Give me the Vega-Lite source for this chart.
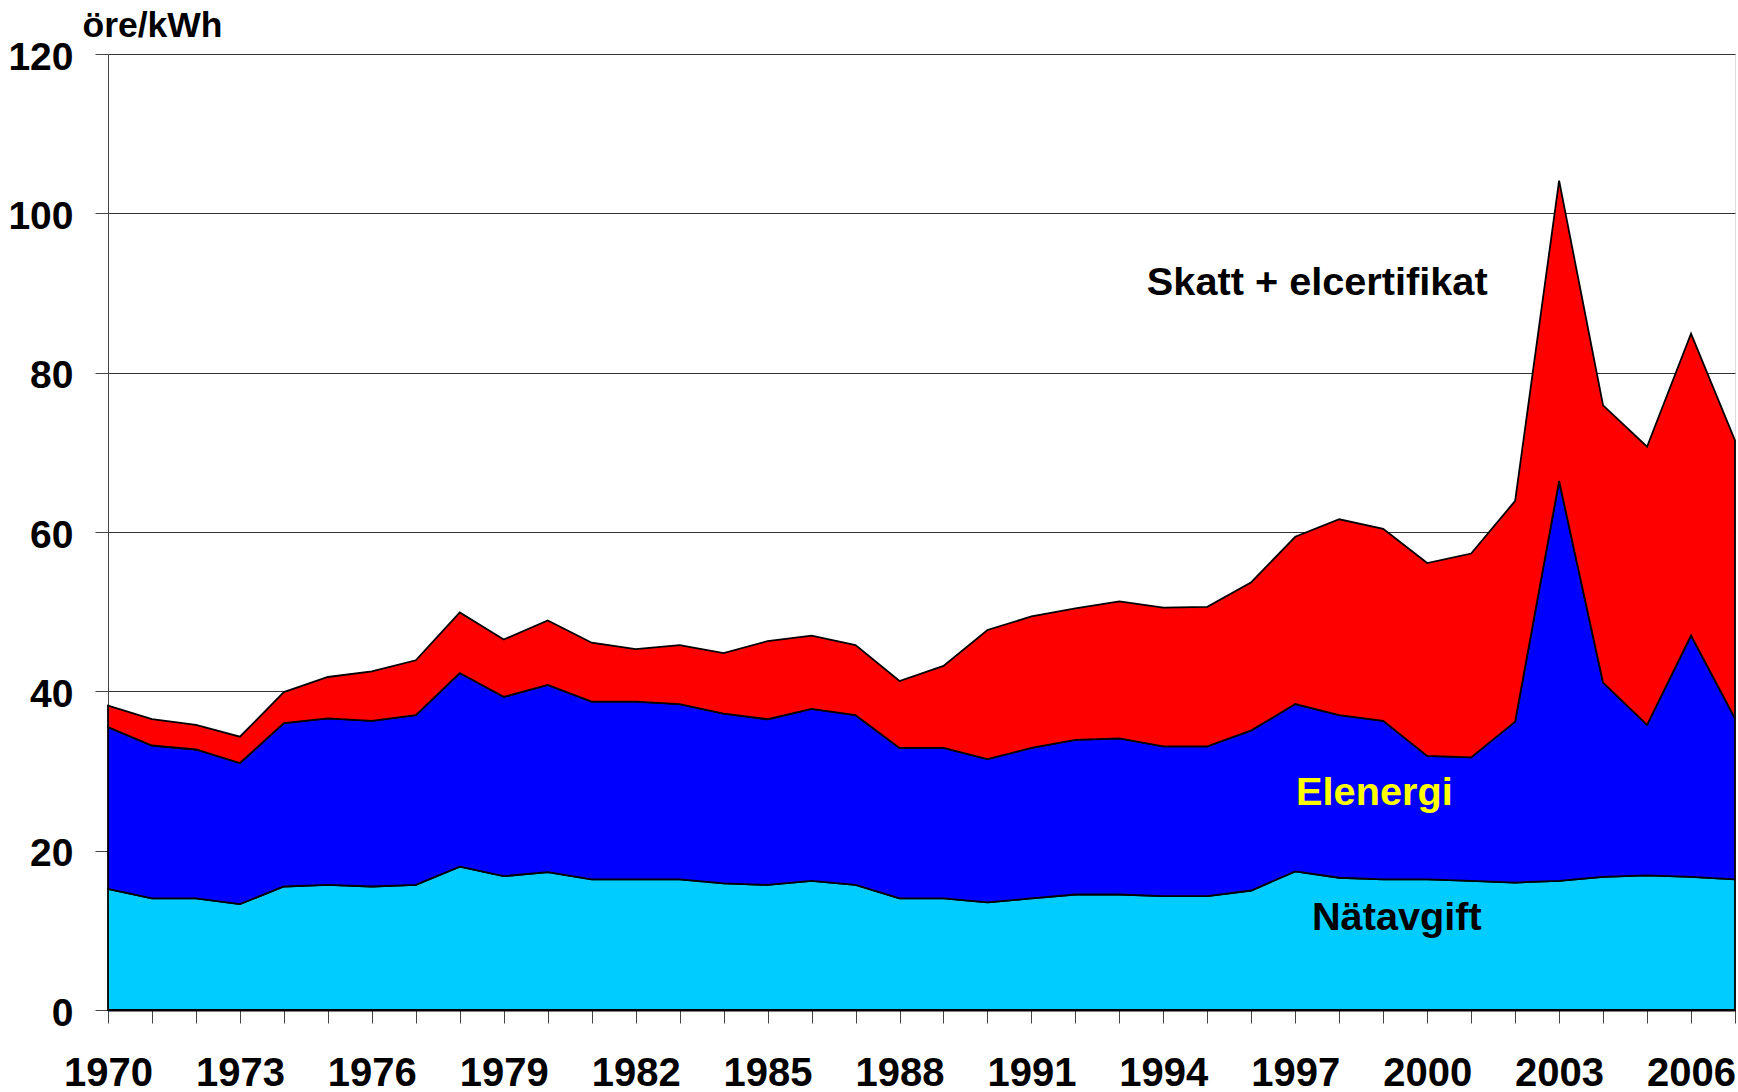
{"$schema":"https://vega.github.io/schema/vega-lite/v6.json","width":1627,"height":956,"autosize":{"type":"none"},"padding":{"left":108,"top":54,"right":3,"bottom":82},"background":"white",
"datasets":{"t":[
{"y":1970,"a_nat":15.2,"b_el":20.3,"c_skatt":2.7},{"y":1971,"a_nat":14.0,"b_el":19.2,"c_skatt":3.3},{"y":1972,"a_nat":14.0,"b_el":18.7,"c_skatt":3.1},{"y":1973,"a_nat":13.3,"b_el":17.7,"c_skatt":3.3},{"y":1974,"a_nat":15.5,"b_el":20.5,"c_skatt":3.9},{"y":1975,"a_nat":15.7,"b_el":20.9,"c_skatt":5.2},{"y":1976,"a_nat":15.5,"b_el":20.8,"c_skatt":6.2},{"y":1977,"a_nat":15.7,"b_el":21.3,"c_skatt":6.9},{"y":1978,"a_nat":18.0,"b_el":24.3,"c_skatt":7.6},{"y":1979,"a_nat":16.8,"b_el":22.5,"c_skatt":7.2},{"y":1980,"a_nat":17.3,"b_el":23.5,"c_skatt":8.1},{"y":1981,"a_nat":16.4,"b_el":22.3,"c_skatt":7.4},{"y":1982,"a_nat":16.4,"b_el":22.3,"c_skatt":6.6},{"y":1983,"a_nat":16.4,"b_el":22.0,"c_skatt":7.4},{"y":1984,"a_nat":15.9,"b_el":21.3,"c_skatt":7.6},{"y":1985,"a_nat":15.7,"b_el":20.8,"c_skatt":9.8},{"y":1986,"a_nat":16.2,"b_el":21.6,"c_skatt":9.2},{"y":1987,"a_nat":15.7,"b_el":21.3,"c_skatt":8.8},{"y":1988,"a_nat":14.0,"b_el":18.9,"c_skatt":8.4},{"y":1989,"a_nat":14.0,"b_el":18.9,"c_skatt":10.3},{"y":1990,"a_nat":13.5,"b_el":18.0,"c_skatt":16.2},{"y":1991,"a_nat":14.0,"b_el":18.9,"c_skatt":16.5},{"y":1992,"a_nat":14.5,"b_el":19.4,"c_skatt":16.5},{"y":1993,"a_nat":14.5,"b_el":19.6,"c_skatt":17.2},{"y":1994,"a_nat":14.3,"b_el":18.8,"c_skatt":17.4},{"y":1995,"a_nat":14.3,"b_el":18.8,"c_skatt":17.5},{"y":1996,"a_nat":15.0,"b_el":20.1,"c_skatt":18.6},{"y":1997,"a_nat":17.4,"b_el":21.0,"c_skatt":21.0},{"y":1998,"a_nat":16.6,"b_el":20.4,"c_skatt":24.6},{"y":1999,"a_nat":16.4,"b_el":19.9,"c_skatt":24.1},{"y":2000,"a_nat":16.4,"b_el":15.5,"c_skatt":24.2},{"y":2001,"a_nat":16.2,"b_el":15.5,"c_skatt":25.6},{"y":2002,"a_nat":16.0,"b_el":20.2,"c_skatt":27.7},{"y":2003,"a_nat":16.2,"b_el":50.2,"c_skatt":37.7},{"y":2004,"a_nat":16.7,"b_el":24.4,"c_skatt":34.8},{"y":2005,"a_nat":16.9,"b_el":18.9,"c_skatt":34.9},{"y":2006,"a_nat":16.7,"b_el":30.3,"c_skatt":37.9},{"y":2007,"a_nat":16.4,"b_el":20.2,"c_skatt":34.9}],
"labels":[{"year":1997.5,"value":91.2,"text":"Skatt + elcertifikat","c":"black"},{"year":1998.8,"value":27.2,"text":"Elenergi","c":"yellow"},{"year":1999.31,"value":11.5,"text":"Nätavgift","c":"black"}]},
"layer":[
{"data":{"name":"t"},"transform":[{"fold":["a_nat","b_el","c_skatt"],"as":["part","value"]}],
"mark":{"type":"area","stroke":"black","strokeWidth":1.8,"strokeJoin":"miter","clip":false},
"encoding":{
"x":{"field":"y","type":"quantitative","scale":{"domain":[1970,2007],"nice":false,"zero":false},
"axis":{"values":[1970,1971,1972,1973,1974,1975,1976,1977,1978,1979,1980,1981,1982,1983,1984,1985,1986,1987,1988,1989,1990,1991,1992,1993,1994,1995,1996,1997,1998,1999,2000,2001,2002,2003,2004,2005,2006,2007],"labelExpr":"(datum.value-1970)%3==0 ? datum.value+'' : ''","labelOverlap":false,"labelFlush":false,"grid":false,"title":null,"tickSize":13,"tickColor":"#444444","tickWidth":1,"domain":true,"domainColor":"black","domainWidth":2,"labelFont":"Liberation Sans","labelFontWeight":"bold","labelFontSize":40,"labelColor":"black","labelPadding":30}},
"y":{"field":"value","type":"quantitative","stack":"zero","scale":{"domain":[0,120],"nice":false},
"axis":{"values":[0,20,40,60,80,100,120],"grid":true,"gridColor":"#333333","gridWidth":1,"tickSize":13,"tickColor":"#444444","domainColor":"#444444","domainWidth":1,"labelFont":"Liberation Sans","labelFontWeight":"bold","labelFontSize":39,"labelColor":"black","labelPadding":22,"labelOffset":3,"title":"öre/kWh","titleFont":"Liberation Sans","titleFontWeight":"bold","titleFontSize":35.5,"titleColor":"black","titleAngle":0,"titleAlign":"left","titleBaseline":"alphabetic","titleX":-26,"titleY":-18}},
"color":{"field":"part","type":"nominal","scale":{"domain":["a_nat","b_el","c_skatt"],"range":["#00ccff","#0000ff","#ff0000"]},"legend":null},
"order":{"field":"part","type":"nominal","sort":"ascending"}}},
{"data":{"name":"labels"},"mark":{"type":"text","font":"Liberation Sans","fontWeight":"bold","fontSize":39.7,"align":"center","baseline":"middle"},
"encoding":{"x":{"field":"year","type":"quantitative"},"y":{"field":"value","type":"quantitative"},"text":{"field":"text"},"color":{"field":"c","type":"nominal","scale":null}}}
]}
